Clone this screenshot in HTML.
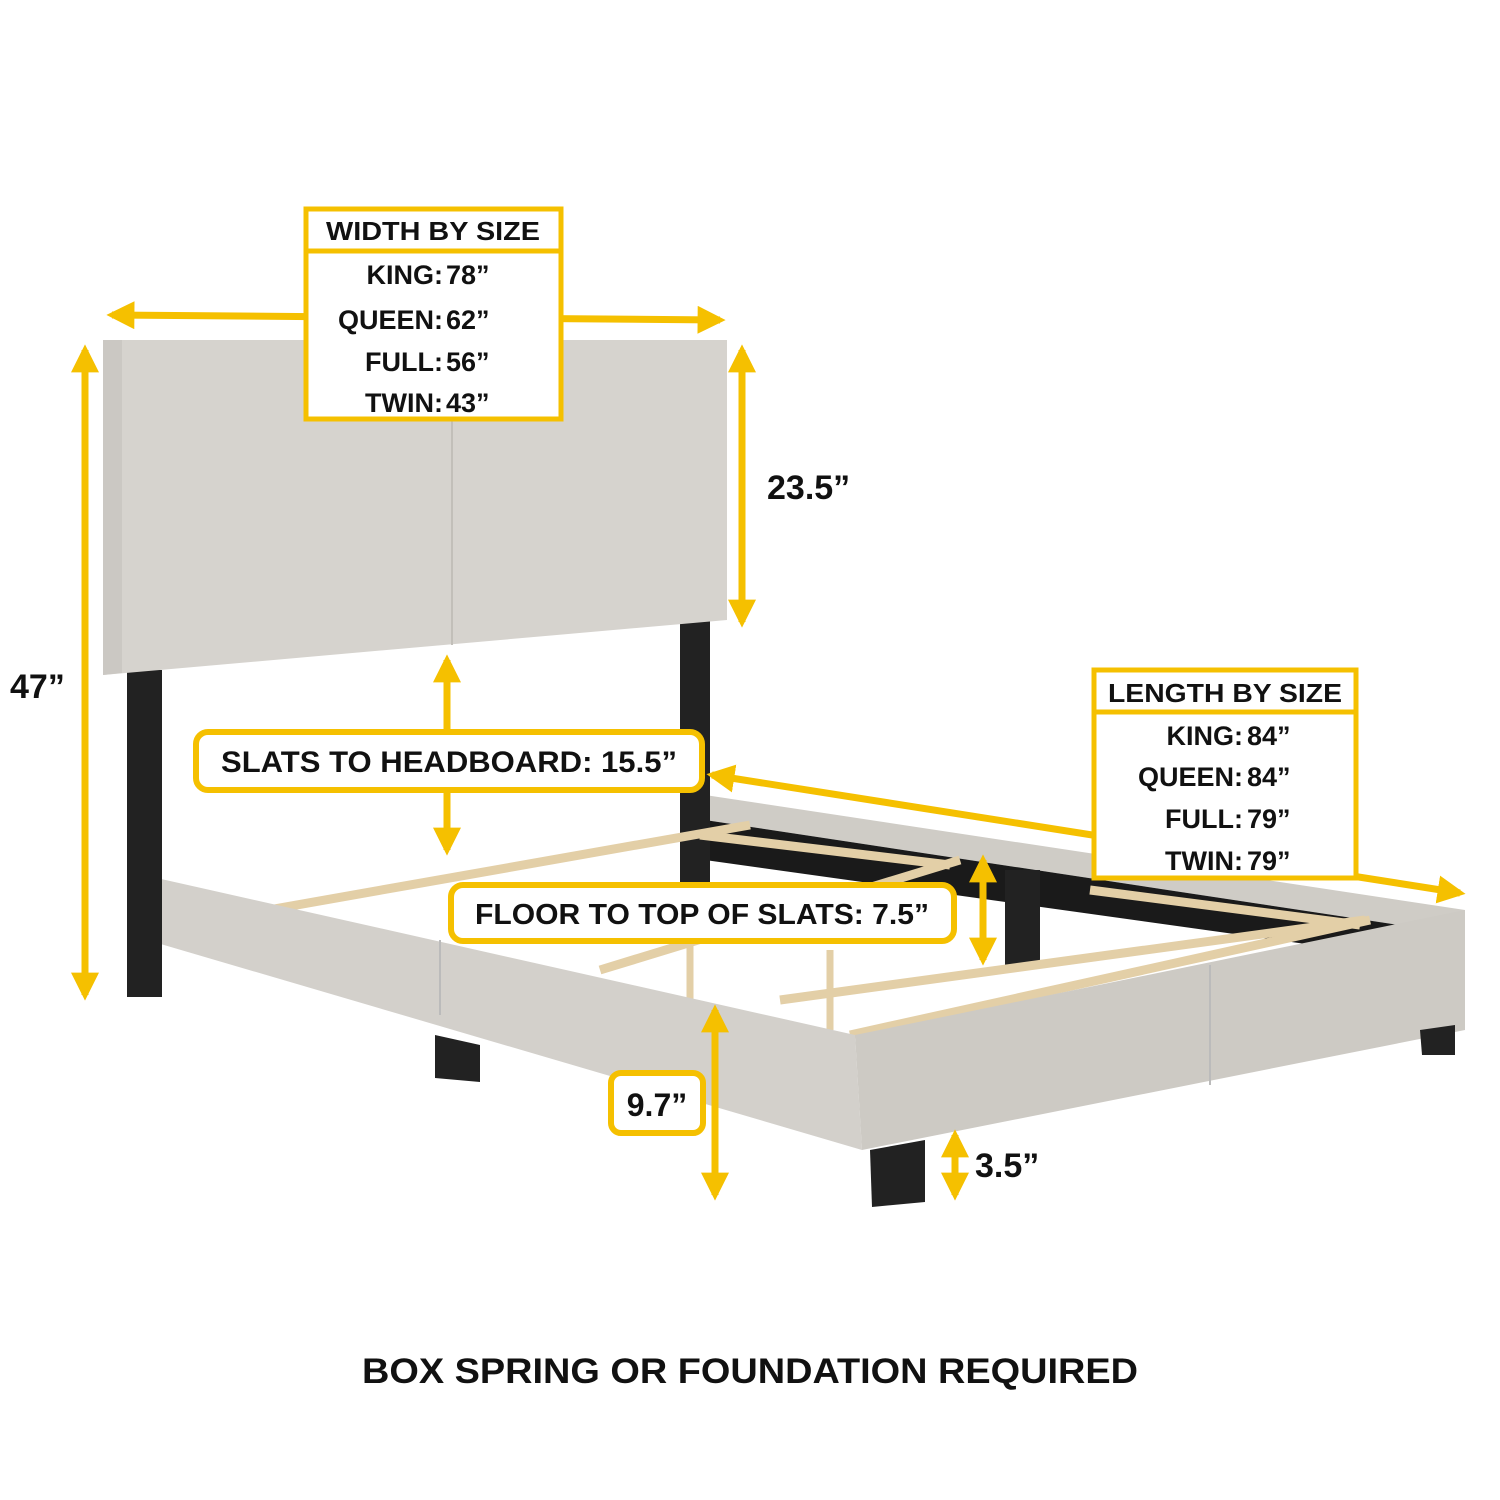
<!DOCTYPE html>
<html><head><meta charset="utf-8"><style>
html,body{margin:0;padding:0;background:#fff}
svg{display:block}
text{font-family:"Liberation Sans",sans-serif;font-weight:bold;fill:#111}
</style></head><body>
<svg width="1500" height="1500" viewBox="0 0 1500 1500" xmlns="http://www.w3.org/2000/svg">
<defs>
<marker id="ah" viewBox="0 0 10 10" refX="8" refY="5" markerWidth="4" markerHeight="4" orient="auto-start-reverse"><path d="M0,0 L10,5 L0,10 z" fill="#f5c000"/></marker>
</defs>
<g>
<polygon points="705,795 1465,910 1465,935 705,820" fill="#cfccc6"/>
<polygon points="705,820 1465,935 1420,960 705,860" fill="#1a1a1a"/>
<rect x="680" y="610" width="30" height="290" fill="#222"/>
<rect x="1005" y="870" width="35" height="95" fill="#222"/>
<g stroke="#e3cfa7" stroke-width="9" fill="none">
<line x1="240" y1="915" x2="750" y2="825"/>
<line x1="700" y1="835" x2="950" y2="865"/>
<line x1="600" y1="970" x2="960" y2="860"/>
<line x1="780" y1="1000" x2="1365" y2="920"/>
<line x1="850" y1="1035" x2="1370" y2="920"/>
<line x1="1090" y1="890" x2="1360" y2="925"/>
</g>
<g stroke="#e3cfa7" stroke-width="7"><line x1="690" y1="930" x2="690" y2="1000"/><line x1="830" y1="950" x2="830" y2="1030"/></g>
<polygon points="130,872 855,1035 862,1150 130,935" fill="#d3d0cb"/>
<line x1="440" y1="940" x2="440" y2="1015" stroke="#bbb" stroke-width="2"/>
<polygon points="855,1035 1465,910 1465,1030 862,1150" fill="#cdcac4"/>
<line x1="1210" y1="965" x2="1210" y2="1085" stroke="#bbb" stroke-width="2"/>
<polygon points="435,1035 480,1045 480,1082 435,1078" fill="#222"/>
<polygon points="870,1150 925,1140 925,1202 872,1207" fill="#222"/>
<polygon points="1420,1030 1455,1025 1455,1055 1422,1055" fill="#222"/>
<rect x="127" y="670" width="35" height="327" fill="#222"/>
<polygon points="103,340 727,340 727,620 103,675" fill="#d6d3ce"/>
<polygon points="103,340 122,340 122,673 103,675" fill="#cbc8c3"/>
<line x1="452" y1="340" x2="452" y2="645" stroke="#c2bfb9" stroke-width="2"/>
</g>
<g stroke="#f5c000" stroke-width="7" fill="none" marker-start="url(#ah)" marker-end="url(#ah)">
<line x1="112" y1="315" x2="720" y2="320"/>
<line x1="85" y1="350" x2="85" y2="995"/>
<line x1="742" y1="350" x2="742" y2="622"/>
<line x1="447" y1="660" x2="447" y2="850"/>
<line x1="712" y1="775" x2="1460" y2="893"/>
<line x1="983" y1="860" x2="983" y2="960"/>
<line x1="715" y1="1010" x2="715" y2="1195"/>
<line x1="955" y1="1135" x2="955" y2="1195"/>
</g>
<rect x="306" y="209" width="255" height="210" fill="#fff" stroke="#f5c000" stroke-width="5"/>
<line x1="306" y1="251" x2="561" y2="251" stroke="#f5c000" stroke-width="5"/>
<text x="433" y="240" font-size="26" text-anchor="middle" textLength="214" lengthAdjust="spacingAndGlyphs">WIDTH BY SIZE</text>
<g font-size="27"><text x="443" y="284" text-anchor="end">KING:</text><text x="446" y="284">78”</text>
<text x="443" y="329" text-anchor="end">QUEEN:</text><text x="446" y="329">62”</text>
<text x="443" y="371" text-anchor="end">FULL:</text><text x="446" y="371">56”</text>
<text x="443" y="412" text-anchor="end">TWIN:</text><text x="446" y="412">43”</text></g>
<rect x="1094" y="670" width="262" height="208" fill="#fff" stroke="#f5c000" stroke-width="5"/>
<line x1="1094" y1="712" x2="1356" y2="712" stroke="#f5c000" stroke-width="5"/>
<text x="1225" y="702" font-size="26" text-anchor="middle" textLength="234" lengthAdjust="spacingAndGlyphs">LENGTH BY SIZE</text>
<g font-size="27"><text x="1243" y="745" text-anchor="end">KING:</text><text x="1247" y="745">84”</text>
<text x="1243" y="786" text-anchor="end">QUEEN:</text><text x="1247" y="786">84”</text>
<text x="1243" y="828" text-anchor="end">FULL:</text><text x="1247" y="828">79”</text>
<text x="1243" y="870" text-anchor="end">TWIN:</text><text x="1247" y="870">79”</text></g>
<rect x="196" y="732" width="506" height="58" rx="12" fill="#fff" stroke="#f5c000" stroke-width="6"/>
<text x="449" y="772" font-size="30" text-anchor="middle" textLength="456" lengthAdjust="spacingAndGlyphs">SLATS TO HEADBOARD: 15.5”</text>
<rect x="451" y="885" width="503" height="56" rx="12" fill="#fff" stroke="#f5c000" stroke-width="6"/>
<text x="702" y="924" font-size="29" text-anchor="middle" textLength="454" lengthAdjust="spacingAndGlyphs">FLOOR TO TOP OF SLATS: 7.5”</text>
<rect x="611" y="1073" width="92" height="60" rx="10" fill="#fff" stroke="#f5c000" stroke-width="6"/>
<text x="657" y="1116" font-size="32" text-anchor="middle">9.7”</text>
<text x="10" y="698" font-size="34">47”</text>
<text x="767" y="499" font-size="34">23.5”</text>
<text x="975" y="1177" font-size="34">3.5”</text>
<text x="750" y="1383" font-size="35" text-anchor="middle" textLength="776" lengthAdjust="spacingAndGlyphs">BOX SPRING OR FOUNDATION REQUIRED</text>
</svg>
</body></html>
